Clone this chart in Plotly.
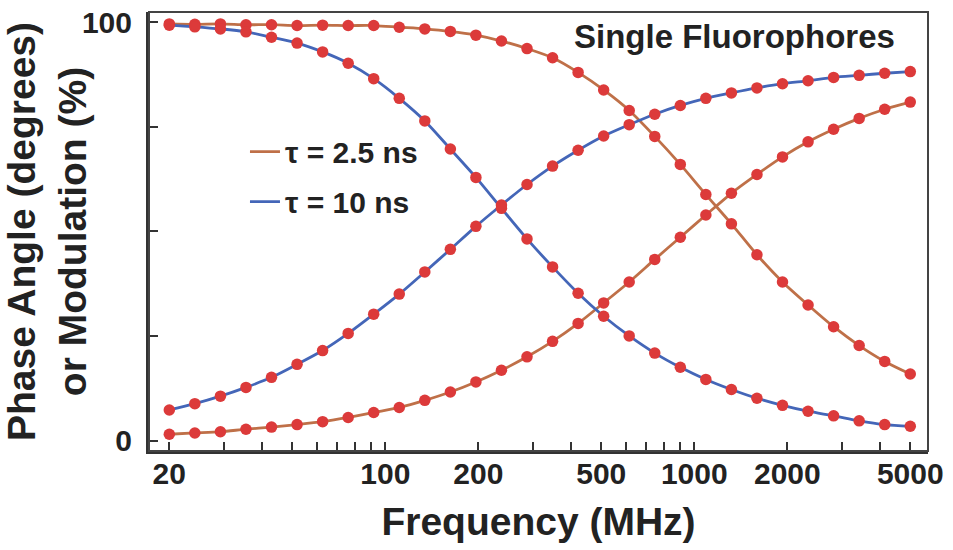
import plotly.graph_objects as go

# Frequencies (MHz) of the measured points
freq_mhz = [20.0, 24.19, 29.27, 35.41, 42.83, 51.82, 62.68, 75.83, 91.73, 110.97,
            134.24, 162.39, 196.45, 237.65, 287.49, 347.78, 420.72, 508.95, 615.68, 744.80,
            901.0, 1089.95, 1318.5, 1595.0, 1929.5, 2334.2, 2823.7, 3415.9, 4132.2, 5000.0]

# tau = 10 ns
phase_10ns = [7.3, 8.8, 10.6, 12.7, 15.1, 18.2, 21.5, 25.6, 30.2, 35.0,
              40.3, 45.7, 51.2, 56.3, 61.2, 65.6, 69.4, 72.8, 75.5, 78.0,
              80.1, 81.8, 83.1, 84.3, 85.3, 86.0, 86.8, 87.3, 87.8, 88.2]
mod_10ns = [99.3, 98.9, 98.4, 97.7, 96.4, 95.0, 92.9, 90.2, 86.5, 81.8,
            76.4, 69.7, 62.9, 55.5, 48.2, 41.5, 35.2, 29.7, 25.0, 20.9,
            17.5, 14.6, 12.2, 10.1, 8.4, 7.0, 5.9, 4.7, 3.8, 3.4]

# tau = 2.5 ns
phase_25ns = [1.5, 1.8, 2.1, 2.7, 3.2, 3.8, 4.5, 5.5, 6.7, 7.9,
              9.6, 11.6, 14.0, 16.8, 20.0, 23.7, 28.0, 32.9, 37.9, 43.3,
              48.6, 53.9, 59.1, 63.6, 67.8, 71.4, 74.4, 77.0, 79.2, 80.9]
mod_25ns = [99.6, 99.5, 99.6, 99.4, 99.4, 99.2, 99.3, 99.2, 99.2, 98.8,
            98.4, 97.8, 96.9, 95.5, 93.7, 91.5, 88.0, 83.8, 78.9, 72.7,
            66.0, 58.8, 51.8, 44.4, 37.9, 32.4, 27.2, 22.7, 18.9, 15.9]

x_tickvals = [20, 30, 40, 50, 60, 70, 80, 90, 100, 200, 300, 400, 500, 600, 700, 800, 900,
              1000, 2000, 3000, 4000, 5000]
x_labeled = {20, 100, 200, 500, 1000, 2000, 5000}
x_ticktext = [str(v) if v in x_labeled else "" for v in x_tickvals]
y_tickvals = [0, 25, 50, 75, 100]
y_ticktext = ["0", "", "", "", "100"]

BROWN = "#bf7048"
BLUE = "#4466b8"
DOT = "#dc3a3a"
FONT = "Liberation Sans"
TXT = "#222222"

fig = go.Figure()

series = [
    ("\u03c4 = 2.5 ns", BROWN, phase_25ns, True, "a"),
    ("\u03c4 = 2.5 ns", BROWN, mod_25ns, False, "a"),
    ("\u03c4 = 10 ns", BLUE, phase_10ns, True, "b"),
    ("\u03c4 = 10 ns", BLUE, mod_10ns, False, "b"),
]
for name, col, ys, show, grp in series:
    fig.add_trace(go.Scatter(
        x=freq_mhz, y=ys, mode="lines", name=name, showlegend=show, legendgroup=grp,
        line=dict(color=col, width=2.8, shape="spline", smoothing=0.8),
    ))
for name, col, ys, show, grp in series:
    fig.add_trace(go.Scatter(
        x=freq_mhz, y=ys, mode="markers", showlegend=False, legendgroup=grp,
        marker=dict(color=DOT, size=11.5, line=dict(width=0)),
    ))

fig.update_layout(
    width=953, height=550,
    margin=dict(l=149, r=25, t=12, b=99, autoexpand=False),
    paper_bgcolor="white", plot_bgcolor="white",
    font=dict(family=FONT, color=TXT, size=30, weight="bold"),
    showlegend=True,
    legend=dict(
        x=0.1232, y=0.741, xanchor="left", yanchor="top",
        bgcolor="rgba(0,0,0,0)", borderwidth=0,
        font=dict(family=FONT, size=30, color=TXT, weight="bold"),
        traceorder="grouped", tracegroupgap=8,
    ),
    xaxis=dict(
        type="log", range=[1.2353, 3.7563], automargin=False,
        tickmode="array", tickvals=x_tickvals, ticktext=x_ticktext,
        ticks="inside", ticklen=9, tickwidth=2, tickcolor="#333333",
        ticklabelstandoff=-6,
        showline=True, linewidth=3, linecolor="#333333", mirror=False,
        showgrid=False, zeroline=False,
        tickfont=dict(family=FONT, size=30, color=TXT, weight="bold"),
        title=dict(text="Frequency (MHz)", standoff=19,
                   font=dict(family=FONT, size=39, color=TXT, weight="bold")),
    ),
    yaxis=dict(
        range=[-2.51, 102.44], automargin=False,
        tickmode="array", tickvals=y_tickvals, ticktext=y_ticktext,
        ticks="inside", ticklen=9, tickwidth=2, tickcolor="#333333",
        ticklabelstandoff=8,
        showline=True, linewidth=3, linecolor="#333333", mirror=False,
        showgrid=False, zeroline=False,
        tickfont=dict(family=FONT, size=30, color=TXT, weight="bold"),
        title=dict(text="Phase Angle (degrees)<br>or Modulation (%)", standoff=3,
                   font=dict(family=FONT, size=39, color=TXT, weight="bold")),
    ),
    shapes=[dict(type="rect", xref="paper", yref="paper", x0=0, x1=1, y0=0, y1=1,
                 line=dict(color="#444444", width=2), layer="above")],
    annotations=[dict(
        text="Single Fluorophores", xref="paper", yref="paper",
        x=0.7516, y=0.945, xanchor="center", yanchor="middle", showarrow=False,
        font=dict(family=FONT, size=33, color=TXT, weight="bold"),
    )],
)

fig.write_html("out.html")
